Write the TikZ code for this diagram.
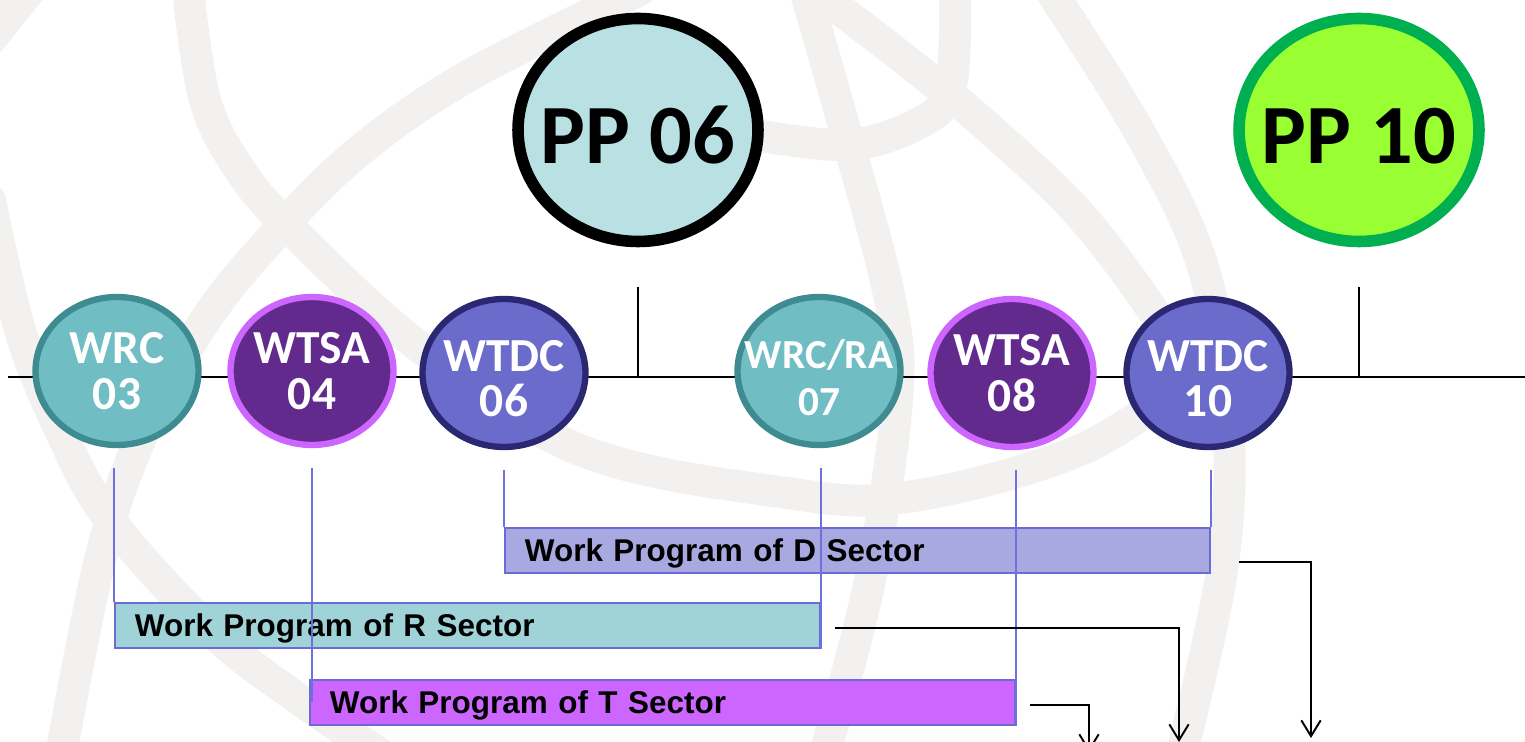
\documentclass[tikz,border=0pt]{standalone}
\usepackage{fontspec}
\setmainfont{Carlito}
\newfontfamily\barfont{Liberation Sans}
\usetikzlibrary{shapes.geometric,arrows.meta,positioning}

\definecolor{GlobeGrey}{HTML}{F2F1EF}
\definecolor{TealFill}{HTML}{71BDC4}
\definecolor{TealLine}{HTML}{3E8C91}
\definecolor{VioletFill}{HTML}{622A8C}
\definecolor{VioletLine}{HTML}{CC66FF}
\definecolor{NavyFill}{HTML}{6B6BCC}
\definecolor{NavyLine}{HTML}{2A2873}
\definecolor{PPCyan}{HTML}{B9E0E3}
\definecolor{PPGreen}{HTML}{99FF33}
\definecolor{PPGreenLine}{HTML}{00B050}
\definecolor{BarLine}{HTML}{6B6BD6}
\definecolor{DFill}{HTML}{A9A9E2}
\definecolor{RFill}{HTML}{9FD3D8}
\definecolor{TFill}{HTML}{CC66FF}
\definecolor{TieBlue}{HTML}{7070DC}

% zero-width line, so the ellipse keeps its own size
\newcommand{\slim}[1]{\makebox[0pt]{#1}}
% extra height on a first line pushes the text a bit down
\newcommand{\drop}{\rule{0pt}{0.85cm}}

\tikzset{
    globe/.style={GlobeGrey, line width=0.64cm, line cap=round},
    axis/.style={black, line width=1pt},
    meet/.style={ellipse, line width=3.6pt, minimum width=3.26cm, minimum height=2.96cm,
        inner sep=0pt, align=center, text=white, font=\fontsize{27}{26}\selectfont\bfseries},
    pp/.style={ellipse, line width=6.6pt, minimum width=4.8cm, minimum height=4.46cm,
        inner sep=0pt, text=black, font=\fontsize{48}{50}\selectfont\bfseries},
    bar/.style={draw=BarLine, line width=1.1pt, anchor=north west, text width=13.3cm,
        inner xsep=0.4cm, inner ysep=0pt, minimum height=0.9cm, align=left, text depth=0pt,
        font=\barfont\bfseries\fontsize{17.9}{20}\selectfont},
    tie/.style={TieBlue, line width=0.9pt, shorten <=0.4cm},
    flow/.style={black, line width=1.1pt, -{Straight Barb[length=9pt,width=11pt]}}
}

\begin{document}
\begin{tikzpicture}[x=0.02cm, y=-0.02cm]
\useasboundingbox (0,0) rectangle (1525,742);

% ============================
% watermark globe
\begin{scope}
    \clip (0,0) rectangle (1525,742);
    \draw[globe] plot[smooth, tension=0.6] coordinates {(188,-10) (205,100) (240,170)
        (290,228) (417,345) (580,450) (780,492) (907,497) (1080,450) (1195,375)};
    \draw[globe] plot[smooth, tension=0.6] coordinates {(640,-10) (470,75) (357,153)
        (270,240) (202,325) (140,440) (100,560) (60,760)};
    \draw[globe] plot[smooth, tension=0.6] coordinates {(-10,200) (20,330) (60,430)
        (110,520) (210,630) (300,700) (390,760)};
    \draw[globe] plot[smooth, tension=0.6] coordinates {(805,-10) (845,130) (890,300)
        (897,400) (870,580) (823,760)};
    \draw[globe] plot[smooth, tension=0.6] coordinates {(745,133) (845,145) (915,125)
        (950,90) (955,-10)};
    \draw[globe] plot[smooth, tension=0.6] coordinates {(820,-5) (880,40) (937,85)};
    \draw[globe] plot[smooth, tension=0.6] coordinates {(960,103) (1073,207) (1157,317)
        (1180,370)};
    \draw[globe] plot[smooth, tension=0.6] coordinates {(1050,-10) (1140,133) (1203,267)
        (1228,420) (1222,570) (1180,760)};
    \draw[globe] (-10,40) -- (30,-10);
\end{scope}

% ============================
\coordinate (tstart) at (8,377);
\coordinate (tfin) at (1525,377);
\draw[axis] (tstart) -- (tfin);

% ============================
\node[pp, draw=black, fill=PPCyan] (pp06) at (638,130) {\slim{\rule{0pt}{1.34cm}PP 06}};
\node[pp, draw=PPGreenLine, fill=PPGreen] (pp10) at (1359,130) {\slim{\rule{0pt}{1.34cm}PP 10}};

\draw[axis] ([yshift=-0.8cm]pp06.south) -- (pp06.south |- tstart);
\draw[axis] ([yshift=-0.8cm]pp10.south) -- (pp10.south |- tstart);

% ============================
\node[meet, draw=TealLine, fill=TealFill] (wrc03) at (117,371) {\slim{WRC}\\03};
\node[meet, draw=VioletLine, fill=VioletFill] (wtsa04) at (312,371) {\slim{WTSA}\\04};
\node[meet, draw=NavyLine, fill=NavyFill] (wtdc06) at (504,373) {\slim{\drop WTDC}\\06};
\node[meet, draw=TealLine, fill=TealFill, font=\fontsize{23.5}{27}\selectfont\bfseries]
    (wrcra07) at (819,371) {\slim{\drop WRC/RA}\\07};
\node[meet, draw=VioletLine, fill=VioletFill] (wtsa08) at (1012,373) {\slim{WTSA}\\08};
\node[meet, draw=NavyLine, fill=NavyFill] (wtdc10) at (1208,373) {\slim{\drop WTDC}\\10};

% ============================
\node[bar, fill=DFill] (dbar) at (504,527) {Work Program of D Sector};
\node[bar, fill=RFill] (rbar) at (114,602) {Work Program of R Sector};
\node[bar, fill=TFill] (tbar) at (309,679) {Work Program of T Sector};

% ============================
\draw[tie] (wrc03.south -| rbar.west) -- (rbar.north west);
\draw[tie] (wtsa04.south) -- (wtsa04.south |- tbar.center);
\draw[tie] (wtdc06.south -| dbar.west) -- (dbar.north west);
\draw[tie] (wrcra07.south -| rbar.east) -- (rbar.south east);
\draw[tie] (wtsa08.south -| tbar.east) -- (tbar.south east);
\draw[tie] (wtdc10.south -| dbar.east) -- (dbar.north east);

% ============================
\coordinate (dsink) at (1311,738);
\coordinate (rsink) at (1179,742);
\coordinate (tsink) at (1089,752);

\draw[flow] ([xshift=0.56cm,yshift=-0.23cm]dbar.east) -| (dsink);
\draw[flow] ([xshift=0.28cm,yshift=-0.05cm]rbar.east) -| (rsink);
\draw[flow] ([xshift=0.28cm,yshift=-0.05cm]tbar.east) -| (tsink);

\end{tikzpicture}
\end{document}
